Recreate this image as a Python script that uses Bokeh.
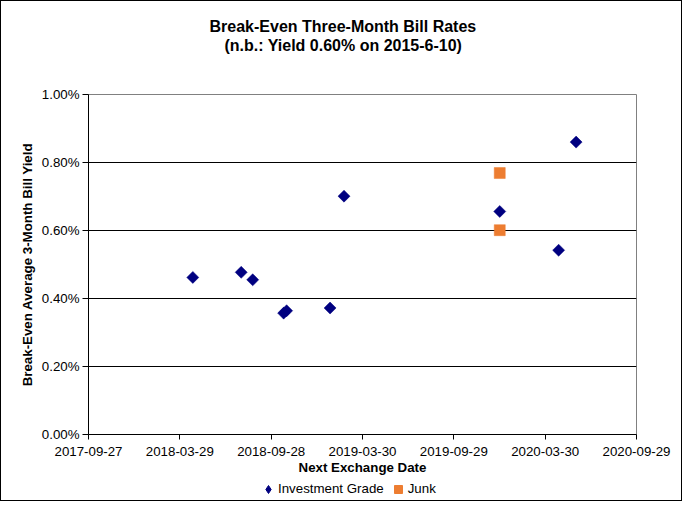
import pandas as pd
import numpy as np
from bokeh.plotting import figure
from bokeh.layouts import column
from bokeh.models import (Range1d, FixedTicker, DatetimeTickFormatter, PrintfTickFormatter,
                          Legend, LegendItem, Title, ColumnDataSource)
from bokeh.embed import file_html
from bokeh.resources import INLINE

# ---- data ----
ig_dates = ["2018-04-24", "2018-07-30", "2018-08-22", "2018-10-23", "2018-10-29",
            "2019-01-24", "2019-02-21", "2019-12-30", "2020-04-26", "2020-05-31"]
ig_yield = [0.462, 0.477, 0.455, 0.357, 0.364, 0.372, 0.701, 0.656, 0.542, 0.860]
junk_dates = ["2019-12-30", "2019-12-30"]
junk_yield = [0.769, 0.601]
x_tick_dates = ["2017-09-27", "2018-03-29", "2018-09-28", "2019-03-30",
                "2019-09-29", "2020-03-30", "2020-09-29"]
y_ticks = [0.0, 0.2, 0.4, 0.6, 0.8, 1.0]

title_lines = ["Break-Even Three-Month Bill Rates", "(n.b.: Yield 0.60% on 2015-6-10)"]
x_title = "Next Exchange Date"
y_title = "Break-Even Average 3-Month Bill Yield"
series_names = ["Investment Grade", "Junk"]


def ms(d):
    return pd.Timestamp(d).value // 10**6


FONT = "Liberation Sans"
NAVY = "#000080"
ORANGE = "#ED7D31"

x_ticks_ms = [ms(d) for d in x_tick_dates]

p = figure(width=680, height=476, x_axis_type="datetime", output_backend="svg",
           toolbar_location=None,
           x_range=Range1d(x_ticks_ms[0], x_ticks_ms[-1]),
           y_range=Range1d(y_ticks[0], y_ticks[-1]),
           min_border_left=87, min_border_right=45, min_border_top=93, min_border_bottom=40)
p.title = None
p.background_fill_color = "white"
p.border_fill_color = "white"
p.outline_line_color = "#808080"
p.outline_line_width = 1

src_ig = ColumnDataSource(dict(x=[ms(d) for d in ig_dates], y=ig_yield))
src_j = ColumnDataSource(dict(x=[ms(d) for d in junk_dates], y=junk_yield))
p.scatter("x", "y", source=src_ig, marker="square", size=8.5, angle=np.pi / 4,
          fill_color=NAVY, line_color=NAVY, line_width=0.5)
p.scatter("x", "y", source=src_j, marker="square", size=11,
          fill_color=ORANGE, line_color=ORANGE, line_width=0.5)

# axes
p.xaxis.ticker = FixedTicker(ticks=x_ticks_ms)
p.xaxis.formatter = DatetimeTickFormatter(days="%Y-%m-%d", months="%Y-%m-%d", years="%Y-%m-%d")
p.yaxis.ticker = FixedTicker(ticks=y_ticks)
p.yaxis.formatter = PrintfTickFormatter(format="%.2f%%")
for ax in (p.xaxis[0], p.yaxis[0]):
    ax.axis_line_color = "black"
    ax.major_tick_line_color = "black"
    ax.major_tick_in = 0
    ax.minor_tick_line_color = None
    ax.major_label_text_font = FONT
    ax.major_label_text_font_size = "13.3px"
    ax.major_label_text_color = "black"
    ax.axis_label_text_font = FONT
    ax.axis_label_text_font_size = "13.3px"
    ax.axis_label_text_font_style = "bold"
    ax.axis_label_text_color = "black"
p.xaxis.major_tick_out = 5
p.yaxis.major_tick_out = 6
p.xaxis.major_label_standoff = 7
p.yaxis.major_label_standoff = 3
p.xaxis.axis_label = x_title
p.yaxis.axis_label = y_title
p.xaxis.axis_label_standoff = 1
p.yaxis.axis_label_standoff = 4

p.xgrid.grid_line_color = None
p.ygrid.ticker = FixedTicker(ticks=y_ticks[1:-1])
p.ygrid.grid_line_color = "black"
p.ygrid.grid_line_width = 1

# title: spacer closest to the plot, then line 2, then line 1
p.add_layout(Title(text=" ", text_font_size="1px", standoff=38), "above")
p.add_layout(Title(text=title_lines[1], align="left", offset=136, standoff=0,
                   text_font=FONT, text_font_size="16px", text_font_style="bold",
                   text_color="black"), "above")
p.add_layout(Title(text=title_lines[0], align="left", offset=121, standoff=0,
                   text_font=FONT, text_font_size="16px", text_font_style="bold",
                   text_color="black"), "above")

# legend strip underneath (its frame is aligned with the main plot's frame)
lf = figure(width=680, height=23, output_backend="svg", toolbar_location=None,
            x_range=Range1d(0, 1), y_range=Range1d(0, 1), min_border=0,
            min_border_left=0, min_border_right=0, min_border_top=0, min_border_bottom=0,
            x_axis_location=None, y_axis_location=None)
lf.title = None
lf.outline_line_color = None
lf.grid.visible = False
lf.border_fill_color = "white"
lr_ig = lf.scatter(x=[np.nan], y=[np.nan], marker="diamond", size=8,
                   fill_color=NAVY, line_color=NAVY)
lr_j = lf.scatter(x=[np.nan], y=[np.nan], marker="square", size=8,
                  fill_color=ORANGE, line_color=ORANGE)
legend = Legend(items=[LegendItem(label=series_names[0], renderers=[lr_ig]),
                       LegendItem(label=series_names[1], renderers=[lr_j])],
                location="left", orientation="horizontal", padding=0, margin=170,
                border_line_color=None, background_fill_alpha=0,
                glyph_width=20, glyph_height=20, label_standoff=-3, spacing=4,
                label_text_font=FONT, label_text_font_size="13.3px", label_text_color="black")
lf.add_layout(legend, "center")

layout = column(p, lf, spacing=0, styles={"border": "1px solid black"})

open("out.html", "w").write(file_html(layout, INLINE))
